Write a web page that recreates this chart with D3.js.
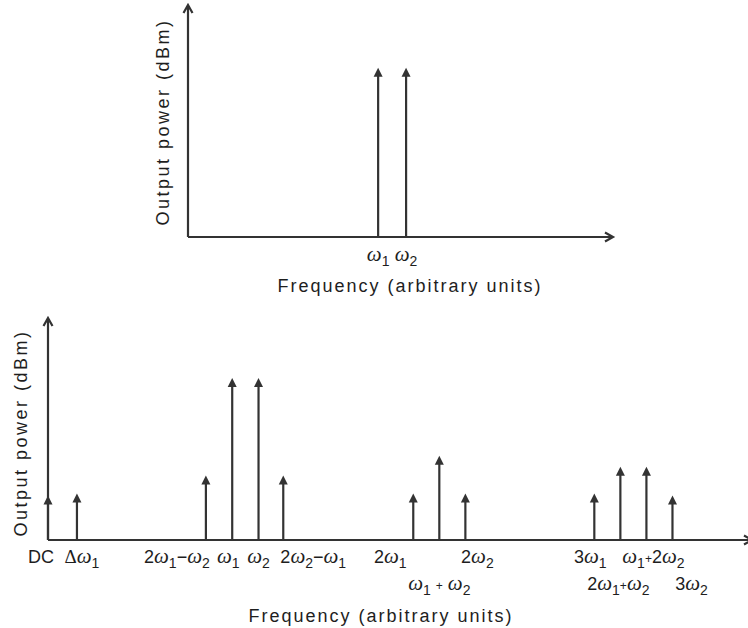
<!DOCTYPE html>
<html>
<head>
<meta charset="utf-8">
<script src="https://cdn.jsdelivr.net/npm/d3@7"></script>
<style>
body { margin: 0; background: #fff; }
text { white-space: pre; }
</style>
</head>
<body>
<div id="chart"></div>
<script>
const w = 748;
const h = 628;
const INK = "#333";

// top panel: the two input tones
const inputTones = ["ω_1", "ω_2"];
const inputFreq = [6.8, 7.8];
const inputLevel = [7.3, 7.3];

// bottom panel: output spectrum with intermod products
const outputTones = ["DC", "Δω_1", "2ω_1−ω_2", "ω_1", "ω_2", "2ω_2−ω_1",
                     "2ω_1", "ω_1 + ω_2", "2ω_2", "3ω_1", "2ω_1+ω_2", "ω_1+2ω_2", "3ω_2"];
const outputFreq = [0, 1.1, 6.0, 7.0, 8.0, 8.94, 13.88, 14.87, 15.86, 20.76, 21.75, 22.74, 23.73];
const outputLevel = [2.0, 2.1, 2.9, 7.3, 7.3, 2.9, 2.1, 3.8, 2.1, 2.1, 3.3, 3.3, 2.0];

const xTitle = "Frequency (arbitrary units)";
const yTitle = "Output power (dBm)";

// where each tick label sits relative to its spike: [dx, row]
const labelShift = {
    "DC": [-7, 0], "Δω_1": [5, 0], "2ω_1−ω_2": [-29, 0], "ω_1": [-4, 0], "ω_2": [0, 0],
    "2ω_2−ω_1": [30, 0], "2ω_1": [-23, 0], "ω_1 + ω_2": [0, 1], "2ω_2": [12, 0],
    "3ω_1": [-4, 0], "2ω_1+ω_2": [-2, 1], "ω_1+2ω_2": [7, 0], "3ω_2": [19, 1]
};

const svg = d3.select("#chart")
    .append("svg")
    .attr("width", w)
    .attr("height", h)
    .style("font-family", "'Liberation Sans', Arial, sans-serif")
    .style("fill", "#1e1e1e");

// writes "2ω_1−ω_2" style strings as tspans with subscripts
function richText(sel, str) {
    let shift = 0;
    const parts = [];
    for (let i = 0; i < str.length; i++) {
        if (str[i] === "_") { parts.push({t: str[++i], sub: true}); continue; }
        parts.push({t: str[i], sub: false});
    }
    parts.forEach(p => {
        const ts = sel.append("tspan").text(p.t);
        const target = p.sub ? 5 : 0;
        if (target !== shift) { ts.attr("dy", target - shift); shift = target; }
        if (p.sub) ts.attr("font-size", 14);
        else if (p.t === "ω") ts.attr("font-family", "'Liberation Serif', serif").attr("font-style", "italic").attr("font-size", 21);
        else if (p.t === "Δ") ts.attr("font-family", "'Liberation Serif', serif").attr("font-size", 19);
        else if (p.t === "+") ts.attr("font-size", 12);
    });
}

function panel(cfg) {
    const g = svg.append("g");
    const x = d3.scaleLinear().domain([0, cfg.xMax]).range([cfg.left, cfg.right]);
    const y = d3.scaleLinear().domain([0, 10]).range([cfg.base, cfg.top]);

    // axes with open arrow heads
    g.append("path")
        .attr("d", `M${cfg.left},${cfg.base}L${cfg.axisEnd},${cfg.base}M${cfg.axisEnd - 8},${cfg.base - 4.5}L${cfg.axisEnd},${cfg.base}L${cfg.axisEnd - 8},${cfg.base + 4.5}`)
        .attr("fill", "none").attr("stroke", INK).attr("stroke-width", 2.2);
    g.append("path")
        .attr("d", `M${cfg.left},${cfg.base}L${cfg.left},${cfg.top}M${cfg.left - 4.5},${cfg.top + 8}L${cfg.left},${cfg.top}L${cfg.left + 4.5},${cfg.top + 8}`)
        .attr("fill", "none").attr("stroke", INK).attr("stroke-width", 2.2);

    const data = cfg.tones.map((t, i) => ({tone: t, f: cfg.freq[i], p: cfg.level[i]}));

    const spikes = g.selectAll(".spike").data(data).enter().append("g").attr("class", "spike");
    spikes.append("line")
        .attr("x1", d => x(d.f)).attr("x2", d => x(d.f))
        .attr("y1", cfg.base).attr("y2", d => y(d.p) + 7)
        .attr("stroke", INK).attr("stroke-width", 2.2);
    spikes.append("path")
        .attr("d", d => `M${x(d.f)},${y(d.p)}L${x(d.f) - 4.5},${y(d.p) + 9}L${x(d.f) + 4.5},${y(d.p) + 9}Z`)
        .attr("fill", INK);

    data.forEach(d => {
        const s = cfg.shift ? cfg.shift[d.tone] : [0, 0];
        const t = g.append("text")
            .attr("x", x(d.f) + s[0])
            .attr("y", cfg.labelY + s[1] * 27)
            .attr("text-anchor", "middle")
            .attr("font-size", 18);
        richText(t, d.tone);
    });

    g.append("text")
        .attr("x", cfg.titleX).attr("y", cfg.titleY)
        .attr("text-anchor", "middle")
        .attr("font-size", 18)
        .attr("letter-spacing", 2.0)
        .text(xTitle);
    g.append("text")
        .attr("transform", `translate(${cfg.yTitleX},${cfg.yTitleY}) rotate(-90)`)
        .attr("text-anchor", "middle")
        .attr("font-size", 18)
        .attr("letter-spacing", 2.5)
        .text(yTitle);
}

panel({
    tones: inputTones, freq: inputFreq, level: inputLevel,
    left: 188, right: 613, axisEnd: 613, xMax: 15.2,
    base: 237, top: 5, labelY: 261,
    titleX: 410, titleY: 292, yTitleX: 169, yTitleY: 122
});

panel({
    tones: outputTones, freq: outputFreq, level: outputLevel, shift: labelShift,
    left: 48, right: 748, axisEnd: 752, xMax: 26.6,
    base: 540, top: 318, labelY: 563,
    titleX: 381, titleY: 622, yTitleX: 27, yTitleY: 433
});
</script>
</body>
</html>
